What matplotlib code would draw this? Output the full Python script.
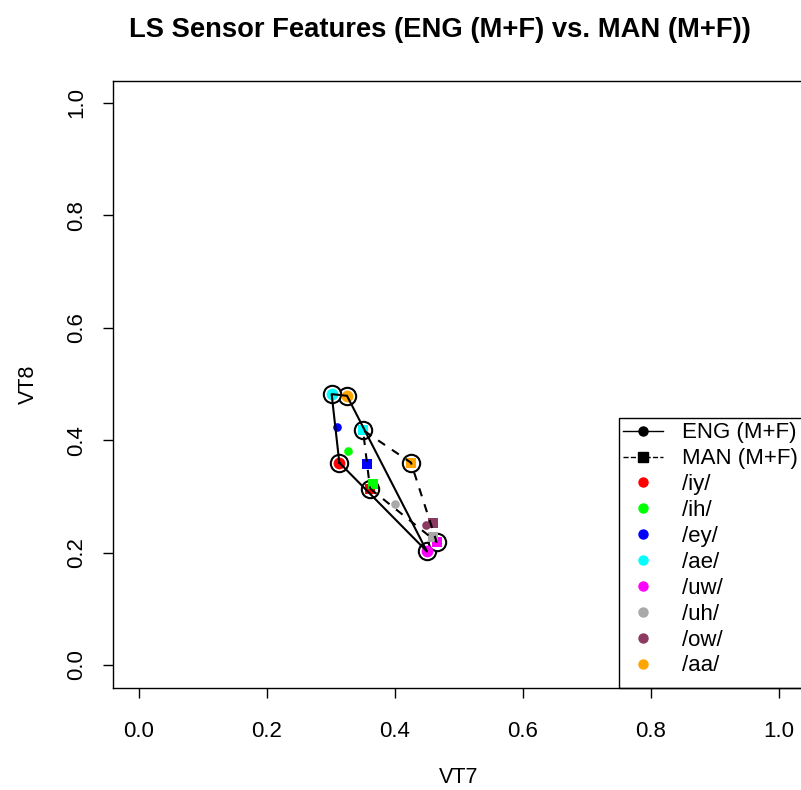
import matplotlib
matplotlib.use("Agg")
import matplotlib.pyplot as plt
from matplotlib.lines import Line2D
from matplotlib.patches import Rectangle

plt.rcParams['font.family'] = ['Liberation Sans', 'DejaVu Sans']

# vowel means (VT7, VT8)
vowels = ['/iy/', '/ih/', '/ey/', '/ae/', '/uw/', '/uh/', '/ow/', '/aa/']
vowel_colours = ['#FF0000', '#00FF00', '#0000FF', '#00FFFF', '#FF00FF', '#A9A9A9', '#8B3A62', '#FFA500']
eng_vt7 = [0.313, 0.327, 0.309, 0.301, 0.450, 0.400, 0.449, 0.325]
eng_vt8 = [0.360, 0.380, 0.423, 0.482, 0.202, 0.286, 0.250, 0.479]
man_vt7 = [0.361, 0.366, 0.357, 0.350, 0.465, 0.459, 0.459, 0.425]
man_vt8 = [0.314, 0.322, 0.357, 0.418, 0.219, 0.227, 0.252, 0.360]
# corner vowels making the quadrilateral
corner = ['/iy/', '/uw/', '/aa/', '/ae/']
ticks = [0.0, 0.2, 0.4, 0.6, 0.8, 1.0]

W, H = 801, 790
fig = plt.figure(figsize=(W / 100, H / 100), dpi=100)
x0, x1 = 113.4, 804.6
y0, y1 = 687.5, 80.5
ax = fig.add_axes([x0 / W, 1 - y0 / H, (x1 - x0) / W, (y0 - y1) / H])
ax.set_xlim(-0.04, 1.04)
ax.set_ylim(-0.04, 1.04)

idx = [vowels.index(v) for v in corner]

# circles around corner vowels
for vt7, vt8 in [(eng_vt7, eng_vt8), (man_vt7, man_vt8)]:
    ax.plot([vt7[i] for i in idx], [vt8[i] for i in idx], 'o', ms=12.5, mfc='white',
            mec='black', mew=1.5, ls='none', zorder=2)

# points (corner vowels drawn bigger inside the rings)
for i, v in enumerate(vowels):
    big = v in corner
    ax.plot(eng_vt7[i], eng_vt8[i], 'o', color=vowel_colours[i], ms=8.5 if big else 6.2,
            mew=0, zorder=3)
    ax.plot(man_vt7[i], man_vt8[i], 's', color=vowel_colours[i], ms=7.5 if big else 6.5,
            mew=0, zorder=3)

# polygons
px = [eng_vt7[i] for i in idx] + [eng_vt7[idx[0]]]
py = [eng_vt8[i] for i in idx] + [eng_vt8[idx[0]]]
ax.plot(px, py, '-', color='black', lw=1.5, zorder=4)
px = [man_vt7[i] for i in idx] + [man_vt7[idx[0]]]
py = [man_vt8[i] for i in idx] + [man_vt8[idx[0]]]
ax.plot(px, py, color='black', lw=1.5, dashes=(4, 4), zorder=4)

# axes styling (R base look)
ax.set_xticks(ticks)
ax.set_yticks(ticks)
ax.set_xticklabels(['%.1f' % t for t in ticks])
ax.set_yticklabels(['%.1f' % t for t in ticks], rotation=90, va='center')
ax.tick_params(direction='out', length=7, width=1, labelsize=16)
ax.tick_params(axis='x', pad=17)
ax.tick_params(axis='y', pad=12)
for s in ax.spines.values():
    s.set_linewidth(1)
ax.set_xlabel('VT7', fontsize=15.5, labelpad=18)
ax.set_ylabel('VT8', fontsize=15.5, labelpad=19.5)
fig.text(440 / W, 1 - 30 / H, 'LS Sensor Features (ENG (M+F) vs. MAN (M+F))',
         ha='center', va='center', fontsize=19.7, fontweight='bold')

# legend (R style: box runs to the bottom-right corner of the plot)
lx = (619 - x0) / (x1 - x0)
ly = (y0 - 418) / (y0 - y1)
ax.add_patch(Rectangle((lx, 0), 1 - lx, ly, transform=ax.transAxes, fill=False,
                       edgecolor='black', lw=1, clip_on=False, zorder=5))
handles = [Line2D([], [], color='black', lw=1, marker='o', ms=6.5),
           Line2D([], [], color='black', lw=1, ls='--', marker='s', ms=6.5)]
labels = ['ENG (M+F)', 'MAN (M+F)']
for i, v in enumerate(vowels):
    handles.append(Line2D([], [], ls='none', marker='o', color=vowel_colours[i], ms=6.5))
    labels.append(v)
leg = ax.legend(handles, labels, loc='upper left', bbox_to_anchor=(lx, ly), borderaxespad=0,
                frameon=False, fontsize=16, labelspacing=0.22, handlelength=1.8,
                handletextpad=0.85, borderpad=0.2)

fig.savefig('out.png', dpi=100)
